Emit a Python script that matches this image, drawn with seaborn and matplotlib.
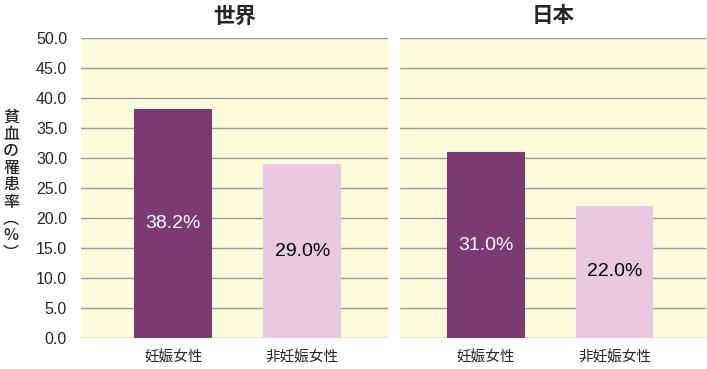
import matplotlib
matplotlib.use("Agg")
import matplotlib.pyplot as plt
import seaborn as sns
import pandas as pd

panels = ["世界", "日本"]
categories = ["妊娠女性", "非妊娠女性"]
world_values = [38.2, 29.0]
japan_values = [31.0, 22.0]
value_labels_world = ["38.2%", "29.0%"]
value_labels_japan = ["31.0%", "22.0%"]
yticks = [0, 5, 10, 15, 20, 25, 30, 35, 40, 45, 50]
ylabel_chars = ["貧", "血", "の", "罹", "患", "率", "︵", "%", "︶"]

sns.set_theme(style="white")
plt.rcParams["font.family"] = ["Liberation Sans", "Noto Sans CJK JP", "DejaVu Sans"]

bar_colors = ["#7B3A74", "#E9C9E1"]
text_colors = ["white", "black"]
bg = "#FEFADC"
grid = "#9A9A9A"

fig = plt.figure(figsize=(7.07, 3.69), dpi=100)
ax1 = fig.add_axes([81/707, 1-338/369, 307/707, 300/369])
ax2 = fig.add_axes([400/707, 1-338/369, 306/707, 300/369])

for ax, title, vals, labs, xl in [(ax1, panels[0], world_values, value_labels_world, (-0.715, 1.665)),
                                  (ax2, panels[1], japan_values, value_labels_japan, (-0.665, 1.71))]:
    df = pd.DataFrame({"cat": categories, "val": vals})
    sns.barplot(data=df, x="cat", y="val", hue="cat", palette=bar_colors,
                width=0.605, ax=ax, legend=False, saturation=1, zorder=3,
                linewidth=0, edgecolor="none")
    ax.set_facecolor(bg)
    ax.set_ylim(0, 50)
    ax.set_xlim(*xl)
    ax.set_yticks(yticks)
    for y in yticks:
        ax.axhline(y, color=grid, lw=1.0, zorder=1)
    for s in ax.spines.values():
        s.set_visible(False)
    ax.tick_params(axis="both", length=0)
    ax.tick_params(axis="x", pad=9, labelsize=10.5)
    ax.set_xticks(range(len(categories)))
    ax.set_xticklabels(categories, family=["Noto Sans CJK JP"])
    ax.set_xlabel("")
    ax.set_ylabel("")
    for i, (cont_patch, lab) in enumerate(zip(ax.patches, labs)):
        h = cont_patch.get_height()
        ax.text(cont_patch.get_x() + cont_patch.get_width()/2, h/2, lab,
                ha="center", va="center", fontsize=14, color=text_colors[i], zorder=4)
    ax.text(0.5, 1.0 + 22/300, title, transform=ax.transAxes, ha="center",
            va="center", fontsize=15.5, family=["Noto Sans CJK JP"], fontweight="bold")

ax1.set_yticklabels([f"{v:.1f}" for v in yticks])
ax1.tick_params(axis="y", pad=10, labelsize=11.5)
ax2.set_yticklabels([])

ytop = 117
for k, ch in enumerate(ylabel_chars):
    fig.text(11/707, 1-(ytop + k*17.0)/369, ch, ha="center", va="center",
             fontsize=11.5, family=["Noto Sans CJK JP", "DejaVu Sans"], fontweight="medium")

fig.savefig("out.png", dpi=100, facecolor="white")
